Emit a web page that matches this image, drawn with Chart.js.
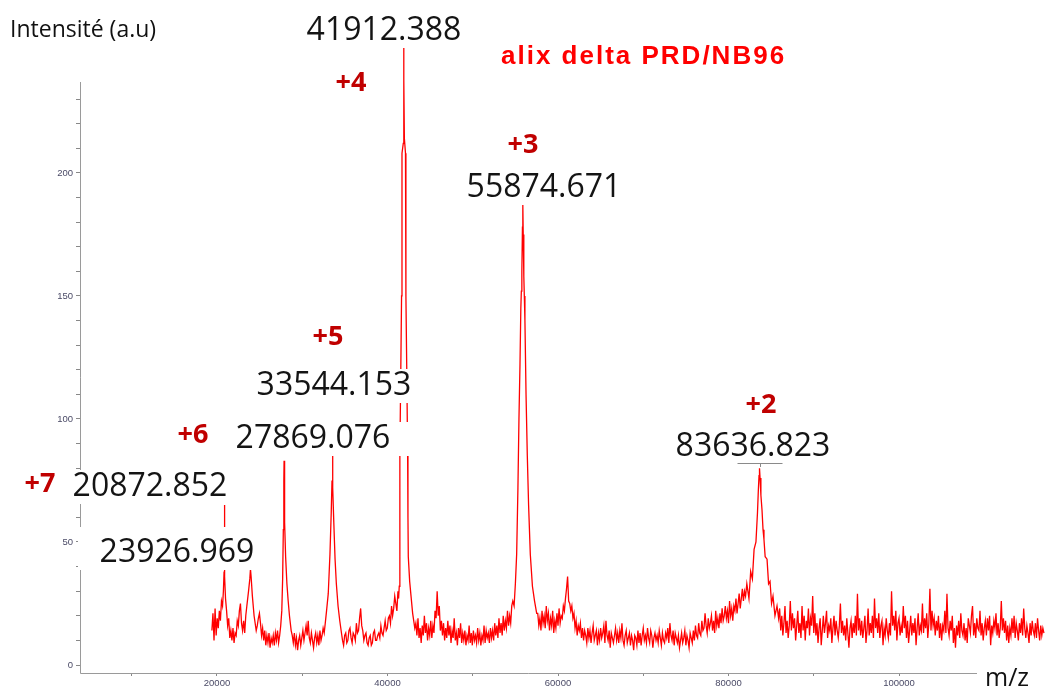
<!DOCTYPE html>
<html>
<head>
<meta charset="utf-8">
<script src="https://cdn.jsdelivr.net/npm/chart.js@4.4.1/dist/chart.umd.min.js"></script>
<style>
  html, body { margin: 0; padding: 0; background: #fff; }
  #wrap { width: 1045px; height: 691px; }
</style>
</head>
<body>
<div id="wrap"><canvas id="spectre" width="1045" height="691"></canvas></div>
<script>
// m/z values (Da), region by region
const mz = [
  // 19.4 - 23.4 kDa (+7)
  19400, 19525, 19650, 19775, 19900, 20025, 20150, 20275, 20400, 20525, 20650, 20750, 20830, 20872, 20910,
  21000, 21125, 21250, 21375, 21500, 21625, 21750, 21875, 22000, 22125, 22250, 22375, 22500, 22625, 22750,
  22875, 23000, 23125, 23250, 23375,
  23500, 23700, 23850, 23926, 24000, 24150, 24350, 24600,
  24725, 24850, 24975, 25100, 25225, 25350, 25475, 25600, 25725, 25850, 25975, 26100, 26225, 26350, 26475,
  26600, 26725, 26850, 26975, 27100, 27225, 27350, 27475,
  // +6
  27600, 27700, 27780, 27840, 27869, 27900, 27960, 28050, 28200, 28350, 28500, 28700,
  28825, 28950, 29075, 29200, 29325, 29450, 29575, 29700, 29825, 29950, 30075, 30200, 30325, 30450, 30575,
  30700, 30825, 30950, 31075, 31200, 31325, 31450, 31575, 31700, 31825, 31950, 32075, 32200, 32325, 32450,
  32575, 32700,
  // +5
  32850, 33050, 33250, 33400, 33490, 33544, 33600, 33700, 33850, 34000, 34200, 34400, 34600,
  34725, 34850, 34975, 35100, 35225, 35350, 35475, 35600, 35725, 35850, 35975, 36100, 36225, 36350, 36475,
  36600, 36725, 36850, 36975, 37100, 37225, 37350, 37475, 37600, 37725, 37850, 37975, 38100, 38225, 38350,
  38475, 38600, 38725, 38850, 38975, 39100, 39225, 39350, 39475, 39600, 39725, 39850, 39975, 40100, 40225,
  40350, 40475, 40600, 40725, 40850, 40975, 41100, 41225,
  // +4
  41300, 41380,
  41450, 41560, 41650, 41700, 41850, 41895, 41912, 41930, 41980, 42110, 42160, 42260, 42360, 42400, 42440,
  42600, 42760, 42950, 43200,
  // 43.3 - 54.6 kDa
  43325, 43450, 43575, 43700, 43825, 43950, 44075, 44200, 44325, 44450, 44575, 44700, 44825, 44950, 45075,
  45200, 45325, 45450, 45575, 45700, 45825, 45950, 46075, 46200, 46325, 46450, 46575, 46700, 46825, 46950,
  47075, 47200, 47325, 47450, 47575, 47700, 47825, 47950, 48075, 48200, 48325, 48450, 48575, 48700, 48825,
  48950, 49075, 49200, 49325, 49450, 49575, 49700, 49825, 49950, 50075, 50200, 50325, 50450, 50575, 50700,
  50825, 50950, 51075, 51200, 51325, 51450, 51575, 51700, 51825, 51950, 52075, 52200, 52325, 52450, 52575,
  52700, 52825, 52950, 53075, 53200, 53325, 53450, 53575, 53700, 53825, 53950, 54075, 54200, 54325, 54450,
  54575,
  // +3
  54700, 54850, 55000, 55150, 55300, 55420, 55540, 55640, 55700, 55760, 55830, 55874, 55920, 55990, 56050,
  56120, 56250, 56400, 56550, 56750, 57000, 57250, 57500,
  // 57.6 - 82 kDa
  57625, 57750, 57875, 58000, 58125, 58250, 58375, 58500, 58625, 58750, 58875, 59000, 59125, 59250, 59375,
  59500, 59625, 59750, 59875, 60000, 60125, 60250, 60375, 60500, 60625, 60750, 60875, 61000, 61125, 61250,
  61375, 61500, 61625, 61750, 61875, 62000, 62125, 62250, 62375, 62500, 62625, 62750, 62875, 63000, 63125,
  63250, 63375, 63500, 63625, 63750, 63875, 64000, 64125, 64250, 64375, 64500, 64625, 64750, 64875, 65000,
  65125, 65250, 65375, 65500, 65625, 65750, 65875, 66000, 66125, 66250, 66375, 66500, 66625, 66750, 66875,
  67000, 67125, 67250, 67375, 67500, 67625, 67750, 67875, 68000, 68125, 68250, 68375, 68500, 68625, 68750,
  68875, 69000, 69125, 69250, 69375, 69500, 69625, 69750, 69875, 70000, 70125, 70250, 70375, 70500, 70625,
  70750, 70875, 71000, 71125, 71250, 71375, 71500, 71625, 71750, 71875, 72000, 72125, 72250, 72375, 72500,
  72625, 72750, 72875, 73000, 73125, 73250, 73375, 73500, 73625, 73750, 73875, 74000, 74125, 74250, 74375,
  74500, 74625, 74750, 74875, 75000, 75125, 75250, 75375, 75500, 75625, 75750, 75875, 76000, 76125, 76250,
  76375, 76500, 76625, 76750, 76875, 77000, 77125, 77250, 77375, 77500, 77625, 77750, 77875, 78000, 78125,
  78250, 78375, 78500, 78625, 78750, 78875, 79000, 79125, 79250, 79375, 79500, 79625, 79750, 79875, 80000,
  80125, 80250, 80375, 80500, 80625, 80750, 80875, 81000, 81125, 81250, 81375, 81500, 81625, 81750, 81875,
  82000,
  // +2
  82150, 82400, 82600, 82800, 83000, 83220, 83400, 83500, 83580, 83636, 83700, 83800, 83930, 84050, 84160,
  84300, 84520, 84700, 84870, 85050, 85220, 85450, 85690,
  // 85.9 - 117 kDa
  85875, 86000, 86125, 86250, 86375, 86500, 86625, 86750, 86875, 87000, 87125, 87250, 87375, 87500, 87625,
  87750, 87875, 88000, 88125, 88250, 88375, 88500, 88625, 88750, 88875, 89000, 89125, 89250, 89375, 89500,
  89625, 89750, 89875, 90000, 90125, 90250, 90375, 90500, 90625, 90750, 90875, 91000, 91125, 91250, 91375,
  91500, 91625, 91750, 91875, 92000, 92125, 92250, 92375, 92500, 92625, 92750, 92875, 93000, 93125, 93250,
  93375, 93500, 93625, 93750, 93875, 94000, 94125, 94250, 94375, 94500, 94625, 94750, 94875, 95000, 95125,
  95250, 95375, 95500, 95625, 95750, 95875, 96000, 96125, 96250, 96375, 96500, 96625, 96750, 96875, 97000,
  97125, 97250, 97375, 97500, 97625, 97750, 97875, 98000, 98125, 98250, 98375, 98500, 98625, 98750, 98875,
  99000, 99125, 99250, 99375, 99500, 99625, 99750, 99875, 100000, 100125, 100250, 100375, 100500, 100625, 100750,
  100875, 101000, 101125, 101250, 101375, 101500, 101625, 101750, 101875, 102000, 102125, 102250, 102375, 102500, 102625,
  102750, 102875, 103000, 103125, 103250, 103375, 103500, 103625, 103750, 103875, 104000, 104125, 104250, 104375, 104500,
  104625, 104750, 104875, 105000, 105125, 105250, 105375, 105500, 105625, 105750, 105875, 106000, 106125, 106250, 106375,
  106500, 106625, 106750, 106875, 107000, 107125, 107250, 107375, 107500, 107625, 107750, 107875, 108000, 108125, 108250,
  108375, 108500, 108625, 108750, 108875, 109000, 109125, 109250, 109375, 109500, 109625, 109750, 109875, 110000, 110125,
  110250, 110375, 110500, 110625, 110750, 110875, 111000, 111125, 111250, 111375, 111500, 111625, 111750, 111875, 112000,
  112125, 112250, 112375, 112500, 112625, 112750, 112875, 113000, 113125, 113250, 113375, 113500, 113625, 113750, 113875,
  114000, 114125, 114250, 114375, 114500, 114625, 114750, 114875, 115000, 115125, 115250, 115375, 115500, 115625, 115750,
  115875, 116000, 116125, 116250, 116375, 116500, 116625, 116750, 116875, 117000
];

// intensity (a.u) at each m/z above
const intensite = [
  14, 21, 10, 23, 12, 19, 15, 22, 18, 26, 24, 30, 38, 65, 36,
  27, 22, 16, 19, 11, 14, 10, 15, 9, 13, 12, 18, 16, 22, 25,
  17, 14, 18, 13, 20,
  24, 30, 35, 39, 36, 28, 20, 14,
  16, 19, 21, 17, 12, 15, 10, 14, 8, 12, 9, 13, 7, 11, 9,
  12, 8, 13, 10, 14, 9, 12, 16,

  22, 35, 55, 75, 83, 76, 58, 44, 33, 26, 20, 14,
  12, 9, 13, 8, 11, 6, 10, 12, 8, 11, 14, 10, 13, 16, 12,
  18, 11, 9, 13, 10, 7, 11, 13, 9, 12, 8, 14, 10, 12, 15,
  13, 17,

  22, 29, 45, 62, 75, 85, 72, 58, 43, 33, 24, 18, 13,
  10, 8, 12, 13, 9, 10, 14, 15, 11, 9, 13, 12, 10, 17, 13,
  14, 19, 23, 16, 14, 10, 12, 13, 9, 8, 11, 12, 8, 9, 13,
  14, 10, 10, 12, 13, 11, 16, 13, 12, 15, 18, 14, 15, 19, 20,
  17, 24, 20, 23, 28, 25, 22, 30,

  27, 32,
  86, 120, 150, 208, 212, 240, 251, 238, 214, 208, 150, 120, 86, 60, 44,
  34, 28, 21, 15,

  17, 12, 19, 11, 15, 9, 16, 12, 20, 13, 17, 10, 15, 12, 18,
  11, 16, 13, 22, 19, 30, 20, 24, 14, 18, 12, 17, 10, 15, 11,
  18, 12, 16, 9, 14, 11, 19, 10, 13, 8, 15, 11, 17, 9, 13,
  10, 14, 8, 12, 10, 16, 9, 13, 8, 14, 10, 12, 9, 15, 10,
  13, 8, 12, 10, 16, 9, 14, 11, 13, 9, 15, 11, 14, 10, 17,
  12, 16, 11, 19, 13, 17, 12, 20, 14, 18, 15, 22, 16, 20, 17,
  24,

  26, 24, 33, 45, 72, 100, 122, 145, 152, 160, 178, 187, 175, 158, 150,
  140, 110, 85, 65, 45, 32, 26, 21,

  21, 16, 19, 14, 22, 17, 20, 15, 24, 18, 21, 14, 19, 16, 22,
  13, 18, 15, 21, 16, 23, 17, 20, 19, 24, 22, 27, 31, 36, 26,
  25, 22, 24, 19, 21, 15, 18, 12, 16, 14, 17, 11, 15, 10, 14,
  12, 9, 15, 11, 14, 9, 13, 16, 10, 12, 14, 8, 13, 10, 15,
  11, 13, 16, 9, 18, 12, 10, 14, 7, 13, 11, 9, 12, 15, 10,
  13, 9, 14, 11, 17, 10, 8, 12, 14, 9, 11, 13, 8, 12, 10,
  6, 12, 11, 8, 14, 9, 13, 8, 12, 15, 10, 12, 9, 15, 11,
  9, 14, 12, 7, 11, 13, 10, 12, 9, 14, 11, 8, 13, 10, 9,
  13, 11, 15, 9, 17, 12, 10, 14, 8, 13, 11, 9, 12, 7, 10,
  13, 9, 11, 14, 8, 12, 10, 7, 13, 11, 9, 14, 10, 16, 12,
  11, 17, 13, 12, 18, 14, 15, 21, 16, 13, 19, 15, 17, 20, 14,
  18, 13, 22, 16, 19, 15, 21, 17, 23, 18, 20, 24, 19, 22, 17,
  26, 20, 23, 18, 24, 22, 27, 21, 25, 29, 23, 27, 31, 26, 30,
  28,

  33, 27, 38, 35, 47, 50, 62, 71, 77, 80, 76, 69, 63, 55, 51,
  44, 43, 33, 34, 25, 28, 20, 24,

  19, 23, 14, 20, 12, 17, 24, 13, 18, 11, 16, 26, 14, 21, 15,
  19, 10, 16, 22, 13, 17, 11, 24, 14, 20, 10, 18, 15, 23, 12,
  19, 16, 28, 13, 21, 12, 17, 9, 15, 19, 8, 14, 20, 13, 17,
  22, 11, 16, 14, 19, 9, 15, 20, 12, 18, 14, 11, 16, 25, 13,
  18, 12, 16, 10, 19, 13, 7, 15, 18, 11, 17, 13, 20, 12, 29,
  14, 19, 12, 18, 11, 15, 20, 9, 14, 23, 12, 17, 13, 20, 11,
  27, 15, 19, 13, 21, 11, 16, 18, 8, 15, 12, 19, 14, 11, 17,
  12, 30, 16, 20, 14, 22, 10, 17, 19, 12, 16, 13, 24, 15, 20,
  11, 18, 9, 14, 20, 12, 17, 13, 19, 8, 15, 21, 12, 16, 14,
  25, 13, 19, 15, 21, 11, 17, 31, 14, 22, 16, 19, 12, 18, 14,
  20, 11, 17, 10, 16, 14, 22, 13, 29, 15, 12, 18, 14, 20, 9,
  15, 7, 16, 12, 18, 11, 21, 14, 12, 17, 10, 15, 9, 19, 16,
  13, 20, 24, 12, 17, 11, 19, 15, 14, 22, 12, 17, 10, 15, 18,
  12, 19, 14, 20, 8, 16, 13, 18, 15, 21, 12, 17, 11, 15, 26,
  14, 19, 13, 18, 10, 16, 9, 15, 12, 19, 13, 20, 11, 17, 14,
  10, 17, 13, 19, 12, 23, 15, 11, 16, 13, 9, 17, 12, 18, 14,
  12, 17, 11, 19, 14, 10, 16, 12, 15, 13
];

const xTickMarks = [10000, 20000, 30000, 40000, 50000, 60000, 70000, 80000, 90000, 100000];
const xTickLabels = [20000, 40000, 60000, 80000, 100000];
const yTickMarks = [0, 10, 20, 30, 40, 50, 60, 70, 80, 90, 100, 110, 120, 130, 140, 150, 160, 170, 180, 190, 200, 210, 220, 230];
const yTickLabels = [0, 50, 100, 150, 200];
const massLabels = ['41912.388', '55874.671', '33544.153', '27869.076', '20872.852', '23926.969', '83636.823'];
const chargeLabels = ['+4', '+3', '+5', '+6', '+7', '+2'];
const titre = 'alix delta PRD/NB96';
const yTitre = 'Intensité (a.u)';
const xTitre = 'm/z';

const points = mz.map((v, i) => ({ x: v, y: intensite[i] }));

// placement of the free text (pixel centres)
const massPos = [[384, 31], [544, 188], [334, 386], [313, 439], [150, 487], [177, 553], [753, 447]];
const massBox = [null, null, null, { right: 410 }, null, { left: 78, top: 527, bottom: 570 }, null];
const chargePos = [[351, 83], [523, 145], [328, 337], [193, 435], [40, 484], [761, 405]];

const annotations = {
  id: 'annotations',
  beforeDatasetsDraw(chart) {
    const { ctx, chartArea, scales: { x, y } } = chart;
    const left = Math.round(chartArea.left) + 0.5;
    const bottom = Math.round(chartArea.bottom) + 0.5;
    ctx.save();
    ctx.strokeStyle = '#9a9a9a';
    ctx.lineWidth = 1;
    ctx.beginPath();
    ctx.moveTo(left, Math.round(y.getPixelForValue(237)));
    ctx.lineTo(left, bottom);
    ctx.lineTo(Math.round(x.getPixelForValue(109150)), bottom);
    ctx.stroke();
    ctx.restore();
  },
  afterDatasetsDraw(chart) {
    const { ctx, scales: { x } } = chart;
    ctx.save();
    ctx.textBaseline = 'middle';

    // masses, on white boxes that hide what is under them
    ctx.font = '32px "Open Sans"';
    massLabels.forEach((t, i) => {
      const [cx, cy] = massPos[i];
      const w = ctx.measureText(t).width;
      const b = massBox[i] || {};
      const l = b.left ?? cx - w / 2 - 6;
      const r = b.right ?? cx + w / 2 + 6;
      const top = b.top ?? cy - 17;
      const bot = b.bottom ?? cy + 17;
      ctx.fillStyle = '#ffffff';
      ctx.fillRect(l, top, r - l, bot - top);
      ctx.fillStyle = '#141414';
      ctx.textAlign = 'center';
      ctx.fillText(t, cx, cy);
    });

    // marker under 83636.823
    const px = Math.round(x.getPixelForValue(83636)) + 0.5;
    ctx.strokeStyle = '#8a8a8a';
    ctx.lineWidth = 1;
    ctx.beginPath();
    ctx.moveTo(px - 23, 463.5);
    ctx.lineTo(px + 22, 463.5);
    ctx.moveTo(px, 463.5);
    ctx.lineTo(px, 467);
    ctx.stroke();

    // charge states
    ctx.font = 'bold 27px "Open Sans"';
    ctx.fillStyle = '#c00000';
    ctx.textAlign = 'center';
    chargeLabels.forEach((t, i) => ctx.fillText(t, chargePos[i][0], chargePos[i][1]));

    // title
    ctx.font = 'bold 26px "Liberation Sans"';
    ctx.letterSpacing = '2px';
    ctx.fillStyle = '#ff0000';
    ctx.textAlign = 'left';
    ctx.fillText(titre, 501, 57);
    ctx.letterSpacing = '0px';

    // axis titles
    ctx.font = '23px "Open Sans"';
    ctx.fillStyle = '#111111';
    ctx.fillText(yTitre, 10, 30);
    ctx.font = '25px "Open Sans"';
    ctx.fillText(xTitre, 985, 679);
    ctx.restore();
  }
};

new Chart(document.getElementById('spectre'), {
  type: 'line',
  data: {
    datasets: [{
      data: points,
      borderColor: '#ff0000',
      borderWidth: 1.3,
      pointRadius: 0,
      tension: 0,
      fill: false
    }]
  },
  options: {
    responsive: false,
    animation: false,
    devicePixelRatio: 1,
    layout: { padding: { top: 45, right: 0, left: 0, bottom: 0 } },
    plugins: { legend: { display: false }, tooltip: { enabled: false } },
    scales: {
      x: {
        type: 'linear',
        min: 3930,
        max: 117125,
        border: { display: false },
        grid: { drawOnChartArea: false, drawTicks: true, tickLength: 3, color: '#888888' },
        afterBuildTicks: (s) => { s.ticks = xTickMarks.map(v => ({ value: v })); },
        afterFit: (s) => { s.height = 18; },
        ticks: {
          autoSkip: false,
          maxRotation: 0,
          padding: 2,
          color: '#4a4a66',
          font: { size: 9.5, family: 'Liberation Sans' },
          callback: (v) => xTickLabels.includes(v) ? String(v) : ''
        }
      },
      y: {
        min: -3.25,
        max: 252,
        border: { display: false },
        grid: { drawOnChartArea: false, drawTicks: true, tickLength: 4, color: '#888888' },
        afterBuildTicks: (s) => { s.ticks = yTickMarks.map(v => ({ value: v })); },
        afterFit: (s) => { s.width = 80; },
        ticks: {
          autoSkip: false,
          padding: 3,
          color: '#4a4a66',
          font: { size: 9.5, family: 'Liberation Sans' },
          callback: (v) => yTickLabels.includes(v) ? String(v) : ''
        }
      }
    }
  },
  plugins: [annotations]
});
</script>
</body>
</html>
